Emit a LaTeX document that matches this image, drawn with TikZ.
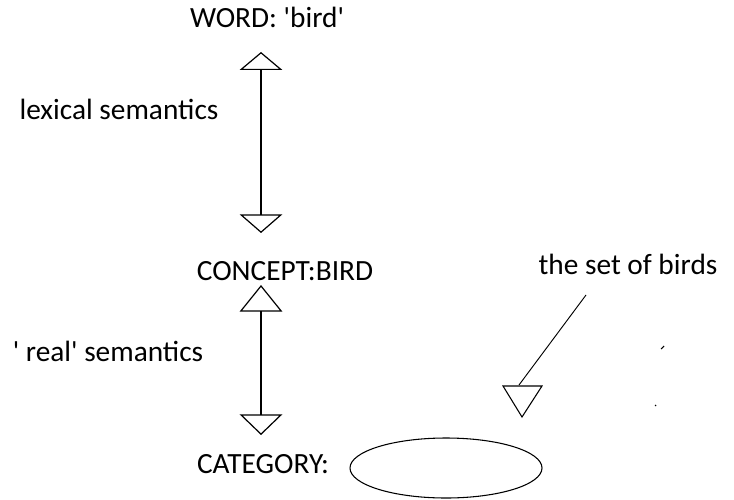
\documentclass[tikz,border=0pt]{standalone}
\usepackage{fontspec}
\newfontfamily\lblfont{Carlito}[Ligatures=TeXOff]
\usetikzlibrary{arrows.meta}

\tikzset{
  lbl/.style={inner sep=0pt, anchor=base, text=black, font=\lblfont\fontsize{22}{26}\selectfont},
  conn/.style={line width=0.9pt},
  tri/.tip={Triangle[open, width=32pt, length=14pt]},
}

\begin{document}
\begin{tikzpicture}[x=0.75pt,y=0.75pt,yscale=-1]
\useasboundingbox (0,0) rectangle (734,499);

% Text Node
\node[lbl] (word) at (267,28) {WORD: 'bird'};
% Text Node
\node[lbl] (lexical) at (119,120) {lexical semantics};
% Text Node
\node[lbl] (concept) at (285,280) {CONCEPT:BIRD};
% Text Node
\node[lbl] (real) at (108,361) {' real' semantics};
% Text Node
\node[lbl] (category) at (263,473) {CATEGORY:};
% Text Node
\node[lbl] (birds) at (628,274) {the set of birds};

% arrow ends
\coordinate (word-tip) at (261,52);
\coordinate (concept-foot) at (261,233);
\coordinate (concept-tip) at (261,285);
\coordinate (category-foot) at (261,435);

%Straight Lines
\draw[conn, {tri[length=13.5pt]}-{tri[length=14pt]}] (word-tip) -- (concept-foot);
%Straight Lines
\draw[conn, {tri[length=20pt]}-{tri[length=15.5pt]}] (concept-tip) -- (category-foot);

%Straight Lines
\coordinate (set-start) at (586,295);
\coordinate (set-end) at (519,385);
\draw[line width=0.7pt] (set-start) -- (set-end);
%Shape: Triangle
\draw[line width=0.8pt] (503,386) -- (542,386) -- (522,417) -- cycle;

%Shape: Ellipse
\draw[line width=0.8pt] (446,468) ellipse [x radius=96, y radius=30];

% stray marks
\draw[line width=0.8pt] (661,349) -- (664,346);
\draw[line width=0.8pt] (655,405) -- (656,406);

\end{tikzpicture}
\end{document}
